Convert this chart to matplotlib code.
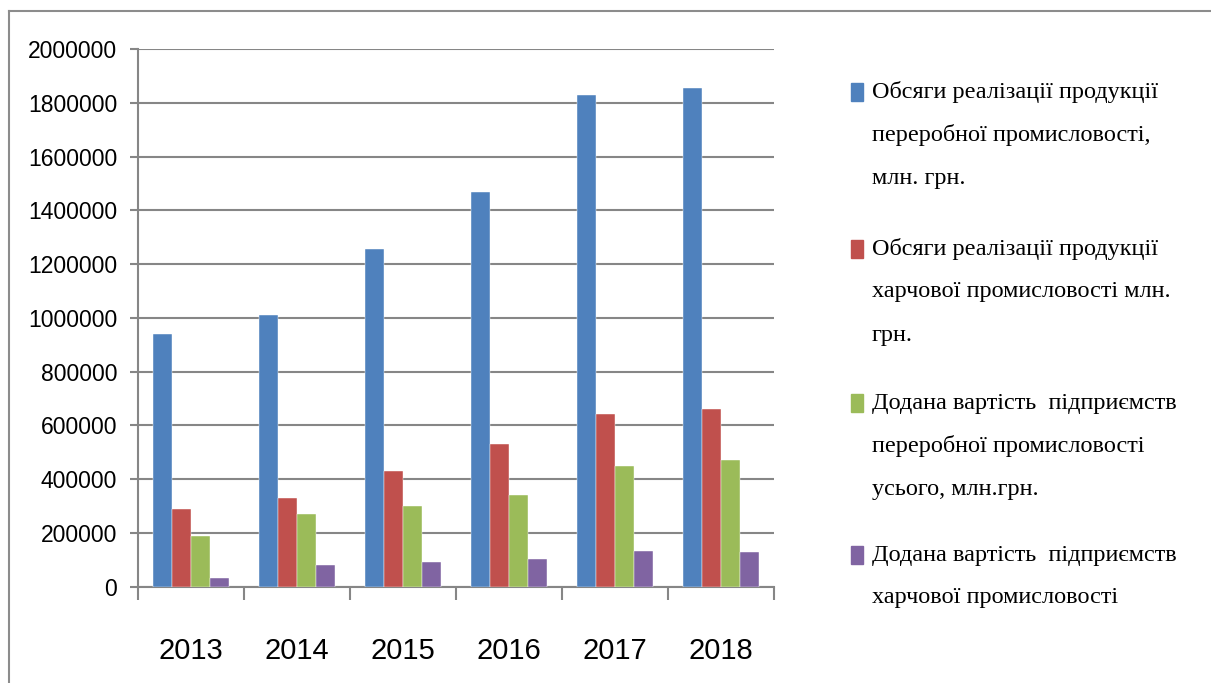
import matplotlib
matplotlib.use('Agg')
import matplotlib.pyplot as plt
import numpy as np
from matplotlib.patches import Rectangle
from matplotlib.lines import Line2D

# Data
#
years = ['2013', '2014', '2015', '2016', '2017', '2018']
labels = ['Обсяги реалізації продукції\nпереробної промисловості,\nмлн. грн.',
          'Обсяги реалізації продукції\nхарчової промисловості млн.\nгрн.',
          'Додана вартість  підприємств\nпереробної промисловості\nусього, млн.грн.',
          'Додана вартість  підприємств\nхарчової промисловості']
proc_sales = [940000, 1009000, 1257000, 1467000, 1828000, 1856000]
food_sales = [290000, 330000, 430000, 530000, 641000, 660000]
proc_added = [189000, 271000, 299000, 340000, 450000, 471000]
food_added = [31000, 80000, 90000, 102000, 131000, 130000]
series = [proc_sales, food_sales, proc_added, food_added]
colors = ['#4F81BD', '#C0504D', '#9BBB59', '#8064A2']
yticks = np.arange(0, 2000001, 200000)

W, H = 1211, 683
fig = plt.figure(figsize=(W/100, H/100), dpi=100)
fig.patch.set_facecolor('white')

grid_c = '#868686'
num_font = ['Liberation Sans', 'DejaVu Sans']
leg_font = ['Liberation Serif', 'DejaVu Serif']

# outer chart frame (only top and left edges are visible)
fig.add_artist(Line2D([9/W, 9/W], [0, 1-11/H], color='#8c8c8c', lw=1.5))
fig.add_artist(Line2D([9/W, 1], [1-11/H, 1-11/H], color='#8c8c8c', lw=1.5))

ax = fig.add_axes([138/W, 1-586.6/H, 636/W, (586.6-49)/H])

x = np.arange(len(years))
bw = 0.179
for i, (vals, c) in enumerate(zip(series, colors)):
    ax.bar(x + (i-1.5)*bw, vals, width=bw, color=c, zorder=3,
           edgecolor='white', linewidth=0.3)

ax.set_xlim(-0.5, len(years)-0.5)
ax.set_ylim(0, 2000000)
ax.set_yticks(yticks)
ax.set_yticklabels([str(v) for v in yticks], family=num_font, fontsize=16.5)
ax.yaxis.grid(True, color=grid_c, lw=1.5, zorder=0)
ax.tick_params(axis='y', length=6, width=1.5, color=grid_c, pad=9)

ax.set_xticks(x)
ax.set_xticklabels(years, family=num_font, fontsize=21)
ax.set_xticks(np.arange(-0.5, len(years)), minor=True)
ax.tick_params(axis='x', which='major', length=0, pad=36)
ax.tick_params(axis='x', which='minor', length=9, width=1.5, color=grid_c)

for s in ['top', 'right']:
    ax.spines[s].set_visible(False)
for s in ['left', 'bottom']:
    ax.spines[s].set_color(grid_c)
    ax.spines[s].set_linewidth(1.5)

# legend, drawn line by line
entry_y = [92, 249, 403, 555]
pitch = 43
for lab, c, y0 in zip(labels, colors, entry_y):
    fig.add_artist(Rectangle((851/W, 1-(y0+9)/H), 12/W, 18/H,
                             color=c, transform=fig.transFigure))
    for k, line in enumerate(lab.split('\n')):
        fig.text(872/W, 1-(y0 + k*pitch)/H, line, family=leg_font,
                 fontsize=17.5, va='center', ha='left', color='black')

plt.savefig('out.png', dpi=100)
